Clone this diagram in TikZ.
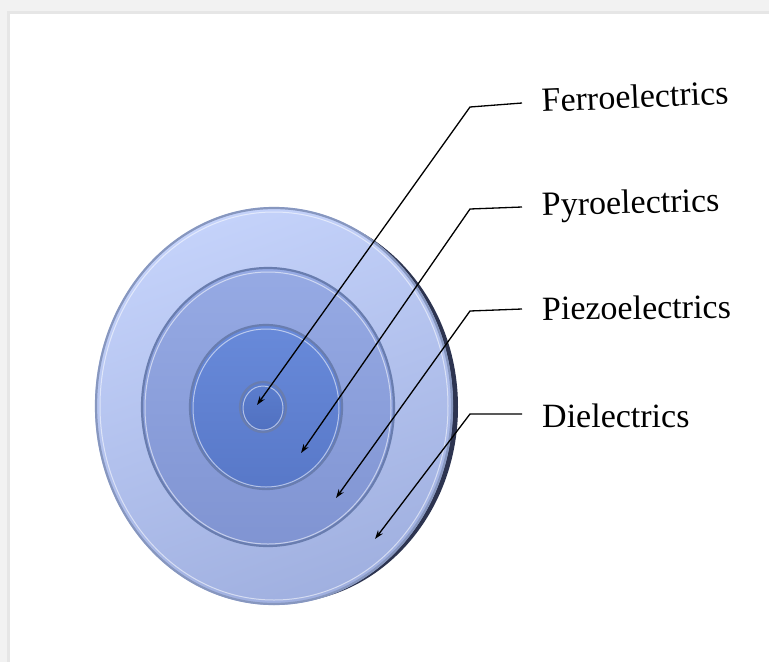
\documentclass[tikz,border=0pt]{standalone}
\usepackage{fontspec}
\setmainfont{Liberation Serif}
\usetikzlibrary{arrows.meta}
\begin{document}
\begin{tikzpicture}[x=1pt,y=-1pt,
  lbl/.style={anchor=base west,inner sep=0pt,font=\fontsize{34}{40}\selectfont},
  lead/.style={draw=black,line width=1.3pt,-{Stealth[length=9pt,width=6pt]}},
  ringedge/.style={draw=ringline,line width=2.2pt},
  ringhi/.style={draw=white,opacity=0.55,line width=1pt}]
\definecolor{frameg}{RGB}{242,242,242}
\definecolor{frameline}{RGB}{230,230,230}
\definecolor{rimdark}{RGB}{45,52,80}
\definecolor{ringline}{RGB}{105,125,175}
\definecolor{oa}{RGB}{196,210,250}
\definecolor{ob}{RGB}{160,176,224}
\definecolor{ma}{RGB}{150,170,228}
\definecolor{mb}{RGB}{128,148,210}
\definecolor{ia}{RGB}{104,138,218}
\definecolor{ib}{RGB}{88,120,200}
\definecolor{ca}{RGB}{92,126,206}
\definecolor{cb}{RGB}{80,112,192}
\useasboundingbox (0,0) rectangle (769,662);
\fill[white] (0,0) rectangle (769,662);
% frame bands
\fill[frameg] (0,0) rectangle (769,13);
\fill[frameg] (0,0) rectangle (9,662);
\fill[frameline] (7,11) rectangle (769,14);
\fill[frameline] (7,11) rectangle (10,662);
% outer disk rim
\fill[rimdark] (281,407) ellipse [x radius=177, y radius=196];
\shade[top color=oa,bottom color=ob,shading angle=20] (274,406) ellipse [x radius=179, y radius=199];
\draw[ringedge,draw=ringline!80] (274,406) ellipse [x radius=178, y radius=198];
\draw[ringhi] (274,406) ellipse [x radius=174, y radius=194];
% second ring
\shade[top color=ma,bottom color=mb] (268,407) ellipse [x radius=126, y radius=139];
\draw[ringedge] (268,407) ellipse [x radius=126, y radius=139];
\draw[ringhi] (268,408) ellipse [x radius=123, y radius=136];
% third ring
\shade[top color=ia,bottom color=ib] (266,407) ellipse [x radius=76, y radius=82];
\draw[ringedge] (266,407) ellipse [x radius=76, y radius=82];
\draw[ringhi] (266,408) ellipse [x radius=73, y radius=79];
% core
\shade[top color=ca,bottom color=cb] (263,407) ellipse [x radius=23, y radius=25];
\draw[ringedge] (263,407) ellipse [x radius=23, y radius=25];
\draw[ringhi] (263,408) ellipse [x radius=20, y radius=22];
% labels
\node[lbl,rotate=2.5] (ferro) at (542,112) {Ferroelectrics};
\node[lbl,rotate=1.5] (pyro) at (542,216) {Pyroelectrics};
\node[lbl,rotate=0.5] (piezo) at (542,320) {Piezoelectrics};
\node[lbl] (diel) at (542,427) {Dielectrics};
% leader coordinates
\coordinate (f0) at (522,103); \coordinate (f1) at (470,107); \coordinate (f2) at (257,405);
\coordinate (p0) at (522,207); \coordinate (p1) at (470,209); \coordinate (p2) at (301,453);
\coordinate (z0) at (522,309); \coordinate (z1) at (470,311); \coordinate (z2) at (336,498);
\coordinate (d0) at (522,414); \coordinate (d1) at (470,414); \coordinate (d2) at (375,539);
\draw[lead] (f0) -- (f1) -- (f2);
\draw[lead] (p0) -- (p1) -- (p2);
\draw[lead] (z0) -- (z1) -- (z2);
\draw[lead] (d0) -- (d1) -- (d2);
\end{tikzpicture}
\end{document}
